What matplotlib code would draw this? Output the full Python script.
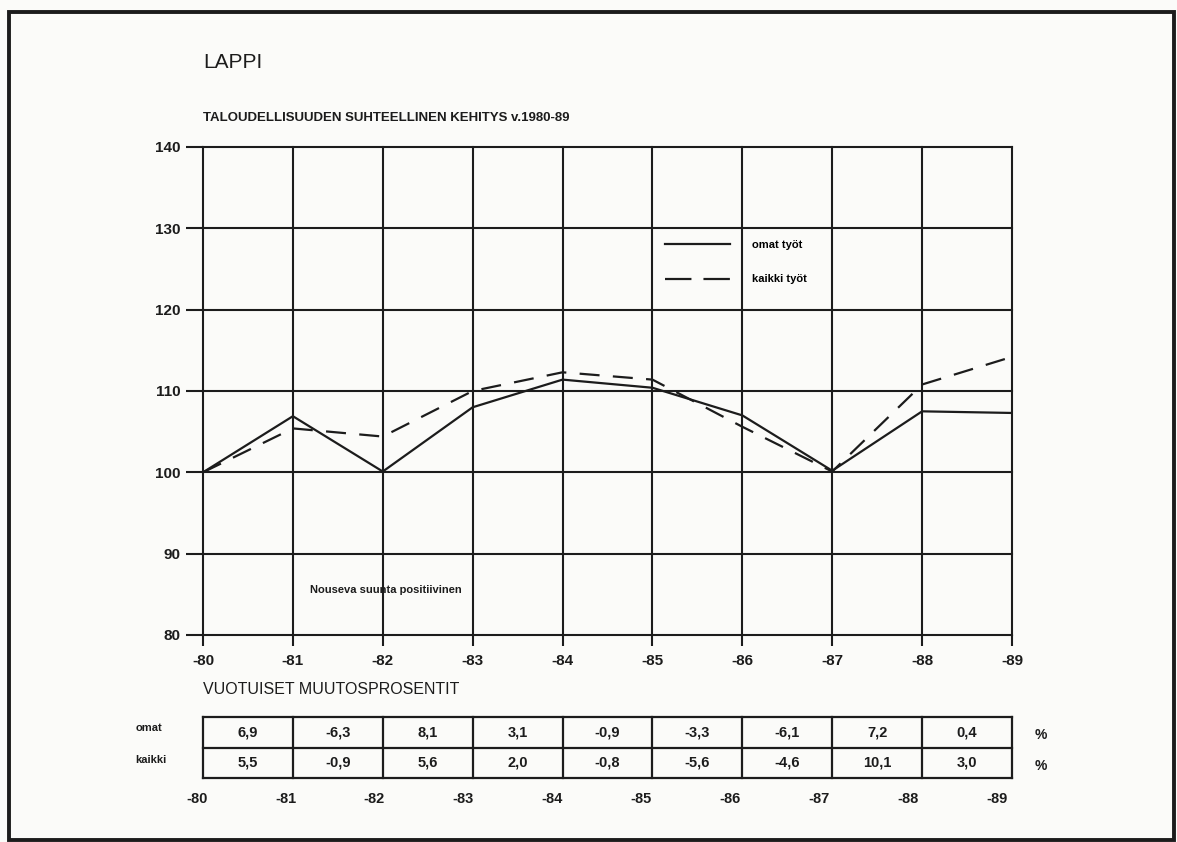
import matplotlib.pyplot as plt
from matplotlib.lines import Line2D
from matplotlib.patches import Rectangle

plt.rcParams['font.family'] = ['Liberation Sans', 'DejaVu Sans']

# vuodet ja indeksit (1980 = 100)
vuodet = ['-80', '-81', '-82', '-83', '-84', '-85', '-86', '-87', '-88', '-89']
omat_tyot = [100, 106.9, 100.1, 108.0, 111.4, 110.4, 107.0, 100.2, 107.5, 107.3]
kaikki_tyot = [100, 105.4, 104.4, 110.0, 112.3, 111.4, 105.6, 100.1, 110.8, 114.2]

# vuotuiset muutosprosentit
omat_pros = ['6,9', '-6,3', '8,1', '3,1', '-0,9', '-3,3', '-6,1', '7,2', '0,4']
kaikki_pros = ['5,5', '-0,9', '5,6', '2,0', '-0,8', '-5,6', '-4,6', '10,1', '3,0']

y_ticks = [80, 90, 100, 110, 120, 130, 140]

ink = '#1c1c1c'
W, H = 1177, 842

fig = plt.figure(figsize=(W / 100, H / 100), dpi=100, facecolor='#fbfbf9')

# kehys sivun ympärillä
fig.patches.append(Rectangle((9 / W, 1 - 840 / H), 1165 / W, 828 / H, transform=fig.transFigure,
                             fill=False, edgecolor=ink, linewidth=2.8))

ax = fig.add_axes([203 / W, 1 - 635 / H, 809 / W, 488 / H])
ax.set_facecolor('none')
x = list(range(len(vuodet)))

for yv in y_ticks:
    ax.axhline(yv, color=ink, lw=1.5, zorder=1, clip_on=False)
for xv in x:
    ax.axvline(xv, color=ink, lw=1.5, zorder=1, clip_on=False)

ax.plot(x, omat_tyot, color=ink, lw=1.6, label='omat työt', zorder=3)
ax.plot(x, kaikki_tyot, color=ink, lw=1.6, dashes=(9, 6), label='kaikki työt', zorder=3)

ax.set_xlim(0, 9)
ax.set_ylim(80, 140)
ax.set_yticks(y_ticks)
ax.set_xticks(x)
ax.set_xticklabels(vuodet)
for s in ax.spines.values():
    s.set_visible(False)
ax.tick_params(axis='y', length=12, width=1.5, color=ink, labelsize=11, pad=4, labelcolor=ink)
ax.tick_params(axis='x', length=8, width=1.5, color=ink, labelsize=11, pad=6, labelcolor=ink)
for t in ax.get_xticklabels() + ax.get_yticklabels():
    t.set_fontweight('bold')

# selite: kaksi pitkää viivaa katkoviivalle
handles = [Line2D([0], [0], color=ink, lw=1.6),
           Line2D([0], [0], color=ink, lw=1.6, dashes=(11.9, 5.4))]
ax.legend(handles, ['omat työt', 'kaikki työt'], loc='upper left',
          bbox_to_anchor=((665 - 203) / 809, 1 - (240 - 147) / 488), frameon=False,
          borderpad=0, borderaxespad=0,
          handlelength=5.85, handletextpad=2.0, labelspacing=2.2,
          prop={'size': 8, 'weight': 'bold'})

ax.text(310 / W, 1 - 590 / H, 'Nouseva suunta positiivinen', transform=fig.transFigure,
        fontsize=8, fontweight='bold', color=ink, va='center')

fig.text(203 / W, 1 - 62 / H, 'LAPPI', fontsize=15, color=ink, va='center')
fig.text(203 / W, 1 - 118 / H, 'TALOUDELLISUUDEN SUHTEELLINEN KEHITYS v.1980-89',
         fontsize=9.5, fontweight='bold', color=ink, va='center')
fig.text(203 / W, 1 - 690 / H, 'VUOTUISET MUUTOSPROSENTIT', fontsize=11.5, color=ink, va='center')

# taulukko
tx = fig.add_axes([203 / W, 1 - 778 / H, 809 / W, 61 / H])
tx.set_xlim(0, 9)
tx.set_ylim(0, 2)
tx.axis('off')
tx.set_facecolor('none')
for yv in [0, 1, 2]:
    tx.plot([0, 9], [yv, yv], color=ink, lw=1.6, clip_on=False)
for xv in range(10):
    tx.plot([xv, xv], [0, 2], color=ink, lw=1.6, clip_on=False)
for i in range(9):
    tx.text(i + 0.5, 1.5, omat_pros[i], ha='center', va='center', fontsize=10.5,
            fontweight='bold', color=ink)
    tx.text(i + 0.5, 0.5, kaikki_pros[i], ha='center', va='center', fontsize=10.5,
            fontweight='bold', color=ink)
tx.text(-0.75, 1.65, 'omat', ha='left', va='center', fontsize=8, fontweight='bold', color=ink)
tx.text(-0.75, 0.6, 'kaikki', ha='left', va='center', fontsize=8, fontweight='bold', color=ink)
tx.text(9.25, 1.4, '%', ha='left', va='center', fontsize=10, fontweight='bold', color=ink)
tx.text(9.25, 0.4, '%', ha='left', va='center', fontsize=10, fontweight='bold', color=ink)
for i, v in enumerate(vuodet):
    tx.text(i - 0.07 - 0.1 * (i / 9), -0.7, v, ha='center', va='center', fontsize=10.5,
            fontweight='bold', color=ink)

fig.savefig('out.png', dpi=100, facecolor=fig.get_facecolor())
